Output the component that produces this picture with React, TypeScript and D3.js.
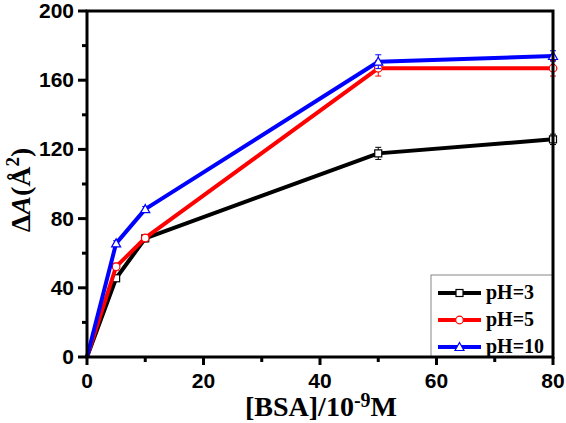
import React from "react";
import * as d3 from "d3";

const xValues = [0, 5, 10, 50, 80];
const ph3 = [0, 45.5, 68.6, 117.7, 125.8];
const ph5 = [0, 52.2, 68.8, 166.9, 166.9];
const ph10 = [0, 65.7, 85.5, 170.7, 174.0];
const err3 = [0, 1.5, 2, 3.5, 3];
const err5 = [0, 2, 2, 4.5, 4.5];
const err10 = [0, 1.5, 1.5, 4, 3];
const seriesNames = ["pH=3", "pH=5", "pH=10"];
const seriesColors = ["#000000", "#ff0000", "#0000ff"];
const xMajor = [0, 20, 40, 60, 80];
const xMinor = [10, 30, 50, 70];
const yMajor = [0, 40, 80, 120, 160, 200];
const yMinor = [20, 60, 100, 140, 180];

const W = 566, H = 423;
const L = 87, R = 553, T = 11, B = 357;

export default function App() {
  const x = d3.scaleLinear().domain([0, 80]).range([L, R]);
  const y = d3.scaleLinear().domain([0, 200]).range([B, T]);
  const line = d3.line<number>().x((_, i) => x(xValues[i])).y((d) => y(d));
  const series = [
    { v: ph3, e: err3, c: seriesColors[0], m: "square" },
    { v: ph5, e: err5, c: seriesColors[1], m: "circle" },
    { v: ph10, e: err10, c: seriesColors[2], m: "triangle" },
  ];
  const marker = (m: string, cx: number, cy: number, c: string, key: any) => {
    if (m === "square")
      return <rect key={key} x={cx - 3.5} y={cy - 3.5} width={7} height={7} fill="#fff" stroke={c} strokeWidth={1.2} />;
    if (m === "circle")
      return <circle key={key} cx={cx} cy={cy} r={3.8} fill="#fff" stroke={c} strokeWidth={1.2} />;
    return (
      <path key={key} d={`M${cx},${cy - 4.5}L${cx + 4.5},${cy + 3.5}L${cx - 4.5},${cy + 3.5}Z`} fill="#fff" stroke={c} strokeWidth={1.2} />
    );
  };
  const sans = "'Liberation Sans', Arial, sans-serif";
  const serif = "'Liberation Serif', 'Times New Roman', serif";
  return (
    <svg width={W} height={H} style={{ position: "absolute", left: 0, top: 0, background: "#fff" }}>
      <rect x={0} y={0} width={W} height={H} fill="#fff" />
      {series.map((s, si) => (
        <g key={si}>
          <path d={line(s.v) || ""} fill="none" stroke={s.c} strokeWidth={4} strokeLinejoin="round" />
          {s.v.map((v, i) =>
            i === 0 ? null : (
              <g key={i} stroke={s.c} strokeWidth={1}>
                <line x1={x(xValues[i])} x2={x(xValues[i])} y1={y(v - s.e[i])} y2={y(v + s.e[i])} />
                <line x1={x(xValues[i]) - 3} x2={x(xValues[i]) + 3} y1={y(v - s.e[i])} y2={y(v - s.e[i])} />
                <line x1={x(xValues[i]) - 3} x2={x(xValues[i]) + 3} y1={y(v + s.e[i])} y2={y(v + s.e[i])} />
              </g>
            )
          )}
          {s.v.map((v, i) => (i === 0 ? null : marker(s.m, x(xValues[i]), y(v), s.c, "m" + i)))}
        </g>
      ))}
      <rect x={431} y={275} width={R - 431} height={B - 275} fill="#fff" stroke="#888" strokeWidth={1} />
      {series.map((s, i) => {
        const ly = 293 + i * 27;
        return (
          <g key={"lg" + i}>
            <line x1={438} x2={481} y1={ly} y2={ly} stroke={s.c} strokeWidth={4} />
            {marker(s.m, 459.5, ly, s.c, "lm" + i)}
            <text x={486} y={ly + 6} fontFamily={serif} fontWeight="bold" fontSize={20} fill="#000">
              {seriesNames[i]}
            </text>
          </g>
        );
      })}
      <rect x={L} y={T} width={R - L} height={B - T} fill="none" stroke="#000" strokeWidth={3} />
      {yMajor.map((t) => (
        <g key={"ym" + t}>
          <line x1={L - 9} x2={L} y1={y(t)} y2={y(t)} stroke="#000" strokeWidth={3} />
          <text x={L - 13} y={y(t) + 7} textAnchor="end" fontFamily={sans} fontWeight="bold" fontSize={21} fill="#000">
            {t}
          </text>
        </g>
      ))}
      {yMinor.map((t) => (
        <line key={"yn" + t} x1={L - 5} x2={L} y1={y(t)} y2={y(t)} stroke="#000" strokeWidth={3} />
      ))}
      {xMajor.map((t) => (
        <g key={"xm" + t}>
          <line x1={x(t)} x2={x(t)} y1={B} y2={B + 8} stroke="#000" strokeWidth={3} />
          <text x={x(t)} y={388} textAnchor="middle" fontFamily={sans} fontWeight="bold" fontSize={21} fill="#000">
            {t}
          </text>
        </g>
      ))}
      {xMinor.map((t) => (
        <line key={"xn" + t} x1={x(t)} x2={x(t)} y1={B} y2={B + 5} stroke="#000" strokeWidth={3} />
      ))}
      <text x={321} y={416} textAnchor="middle" fontFamily={serif} fontWeight="bold" fontSize={28} fill="#000">
        [BSA]/10
        <tspan dy={-9} fontSize={20}>-9</tspan>
        <tspan dy={9}>M</tspan>
      </text>
      <text
        transform={`translate(30,190) rotate(-90)`}
        textAnchor="middle"
        fontFamily={serif}
        fontWeight="bold"
        fontSize={28}
        fill="#000"
      >
        Δ<tspan fontStyle="italic">A</tspan>(Å
        <tspan dy={-11} fontSize={19}>2</tspan>
        <tspan dy={11}>)</tspan>
      </text>
    </svg>
  );
}
